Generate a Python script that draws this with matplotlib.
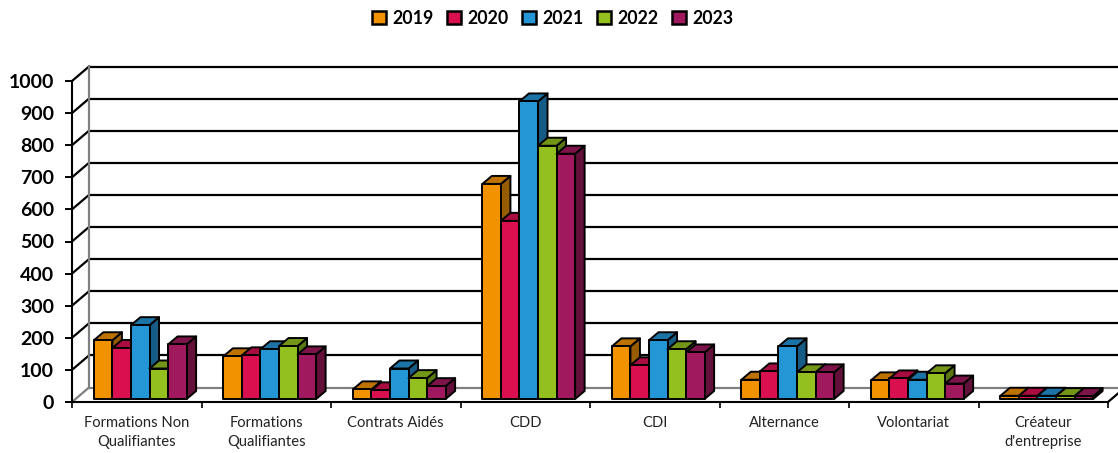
import matplotlib
matplotlib.use("Agg")
import matplotlib.pyplot as plt
from matplotlib.colors import to_rgb
from matplotlib.patches import Patch

plt.rcParams['font.family'] = ['Lato', 'DejaVu Sans']

categories = ["Formations Non\nQualifiantes", "Formations\nQualifiantes", "Contrats Aidés", "CDD",
              "CDI", "Alternance", "Volontariat", "Créateur\nd'entreprise"]
years = ["2019", "2020", "2021", "2022", "2023"]
v2019 = [183, 133, 30, 670, 164, 60, 58, 10]
v2020 = [159, 136, 27, 555, 105, 86, 64, 10]
v2021 = [230, 155, 95, 927, 183, 164, 60, 10]
v2022 = [95, 165, 65, 789, 155, 83, 80, 9]
v2023 = [170, 139, 40, 764, 145, 83, 48, 9]
series = [v2019, v2020, v2021, v2022, v2023]
colors = ["#F39200", "#D90F50", "#2495D5", "#93C01F", "#A0195E"]
yticks = list(range(0, 1001, 100))

W, H = 1118, 453
fig = plt.figure(figsize=(W / 100, H / 100), dpi=100)
L, R, T, B = 72, 1108, 81, 402
ax = fig.add_axes([L / W, 1 - B / H, (R - L) / W, (B - T) / H])
ax.set_xlim(0, len(categories))
ax.set_ylim(0, 1000)

px = len(categories) / (R - L)      # x data units per pixel
py = 1000 / (B - T)                 # y data units per pixel
WALL_X, WALL_Y = 17 * px, 14.5 * py  # depth of the pseudo-3D box
BAR_X, BAR_Y = 9.5 * px, 8 * py      # depth of one bar
INSET_X, INSET_Y = 3.5 * px, 3 * py  # bar front relative to front of the floor
BW = 18.55 * px
EDGE = 'black'
LW = 1.4


def shade(c, f):
    return tuple(f * v for v in to_rgb(c))


# back wall and left wall
for t in yticks:
    col = '#808080' if t == 0 else 'black'
    ax.plot([WALL_X, len(categories) + WALL_X], [t + WALL_Y] * 2, color=col, lw=1.6,
            clip_on=False, zorder=1, solid_capstyle='butt')
    ax.plot([0, WALL_X], [t, t + WALL_Y], color=col, lw=1.6, clip_on=False, zorder=1)
ax.plot([WALL_X, WALL_X], [WALL_Y, 1000 + WALL_Y], color='#808080', lw=1.6, clip_on=False, zorder=1)
ax.plot([len(categories), len(categories) + WALL_X], [0, WALL_Y], color='black', lw=1.6,
        clip_on=False, zorder=1)

# bars
z = 3
group_inset = (1 - BW * len(series)) / 2
for i in range(len(categories)):
    for j, vals in enumerate(series):
        x0 = i + group_inset + INSET_X + j * BW
        x1 = x0 + BW
        y0 = INSET_Y
        y1 = INSET_Y + vals[i]
        c = colors[j]
        kw = dict(edgecolor=EDGE, linewidth=LW, clip_on=False, joinstyle='round')
        ax.fill([x1, x1 + BAR_X, x1 + BAR_X, x1], [y0, y0 + BAR_Y, y1 + BAR_Y, y1],
                facecolor=shade(c, 0.62), zorder=z, **kw)
        ax.fill([x0, x0 + BAR_X, x1 + BAR_X, x1], [y1, y1 + BAR_Y, y1 + BAR_Y, y1],
                facecolor=shade(c, 0.78), zorder=z, **kw)
        ax.fill([x0, x1, x1, x0], [y0, y0, y1, y1], facecolor=c, zorder=z, **kw)
        z += 1

# axes
for s in ('top', 'right'):
    ax.spines[s].set_visible(False)
for s in ('left', 'bottom'):
    ax.spines[s].set_linewidth(1.5)
    ax.spines[s].set_zorder(2)
ax.set_yticks(yticks)
ax.set_yticklabels([str(t) for t in yticks], fontsize=14, fontweight='bold', color='black')
ax.tick_params(axis='y', length=5, width=1.4, pad=8)
ax.set_xticks(range(len(categories) + 1))
ax.set_xticklabels([])
ax.tick_params(axis='x', which='major', length=4, width=1.2)
ax.set_xticks([i + 0.5 for i in range(len(categories))], minor=True)
ax.set_xticklabels(categories, minor=True, fontsize=10.6, color='#222222', linespacing=1.45)
ax.tick_params(axis='x', which='minor', length=0, pad=10)

handles = [Patch(facecolor=c, edgecolor='black', linewidth=1.8, label=y) for c, y in zip(colors, years)]
fig.legend(handles=handles, loc='center', bbox_to_anchor=(553 / W, 1 - 18 / H), ncol=5, frameon=False,
           prop={'size': 12.8, 'weight': 'bold'}, handlelength=0.75, handleheight=0.75,
           handletextpad=0.4, columnspacing=0.75)

fig.savefig("out.png", dpi=100)
